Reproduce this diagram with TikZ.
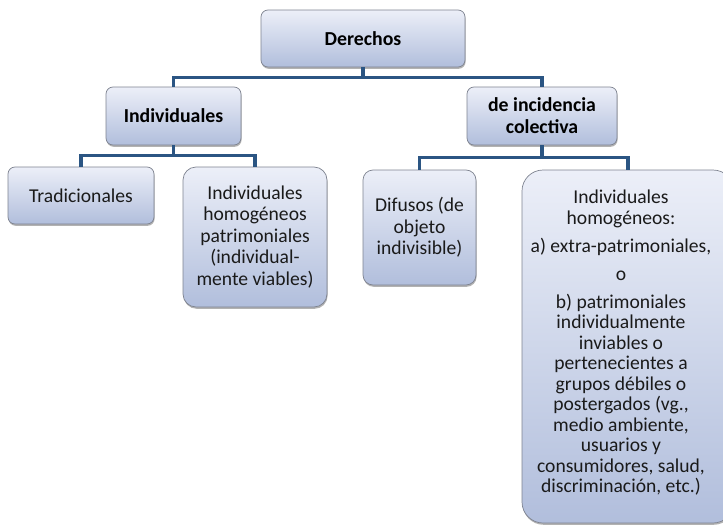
\documentclass[tikz,border=0pt]{standalone}
\usepackage{fontspec}
\setmainfont{Carlito}
\usetikzlibrary{shadows}
\definecolor{boxtop}{HTML}{ECEFF8}
\definecolor{boxbot}{HTML}{B1BEDC}
\definecolor{boxline}{HTML}{7E8390}
\definecolor{linecol}{HTML}{2B5583}
\definecolor{txtcol}{HTML}{1A1A1A}
\tikzset{
  box/.style={draw=boxline, line width=0.7pt, top color=boxtop, bottom color=boxbot,
    rounded corners=7pt, align=center, inner sep=0pt, text=txtcol,
    font=\fontsize{19.6}{21.5}\selectfont,
    drop shadow={shadow xshift=0.6pt, shadow yshift=-1.8pt, fill=black, opacity=0.3}},
  head/.style={box, font=\fontsize{19.8}{22}\selectfont\bfseries, text=black},
  plain/.style={align=center, inner sep=0pt, text=txtcol, font=\fontsize{19.6}{20.5}\selectfont},
  conn/.style={draw=linecol, line width=3.2pt}
}
\begin{document}
\begin{tikzpicture}[x=1pt,y=-1pt]
\useasboundingbox (0,0) rectangle (723,530);
\begin{scope}
\clip (0,0) rectangle (723,530);
% boxes
\node[head, minimum width=204pt, minimum height=57pt] (der) at (363,38.5) {Derechos};
\node[head, minimum width=135pt, minimum height=58pt] (ind) at (173.5,116) {Individuales};
\node[head, minimum width=150pt, minimum height=58pt] (col) at (542,116) {de incidencia\\colectiva};
\node[box, minimum width=146pt, minimum height=57pt] (tra) at (81,195.5) {Tradicionales};
\node[box, rounded corners=13pt, minimum width=144pt, minimum height=140pt] (ihp) at (255,237)
  {Individuales\\homogéneos\\patrimoniales\\(individual-\\mente viables)};
\node[box, rounded corners=10pt, minimum width=113pt, minimum height=115pt] (dif) at (419.5,227.5)
  {Difusos (de\\objeto\\indivisible)};
\node[box, rounded corners=21pt, minimum width=212pt, minimum height=353pt] (big) at (628,346.5) {};
\node[plain] (bigtext) at (621,343)
  {Individuales\\homogéneos:\\[7.5pt]
   a) extra-patrimoniales,\\[7.5pt]
   o\\[7.5pt]
   b) patrimoniales\\individualmente\\inviables o\\pertenecientes a\\grupos débiles o\\postergados (vg.,\\medio ambiente,\\usuarios y\\consumidores, salud,\\discriminación, etc.)};
% connectors
\draw[conn] (der.south) -- ++(0,10) -| (ind.north);
\draw[conn] (der.south) -- ++(0,10) -| (col.north);
\draw[conn] (ind.south) -- ++(0,10) -| (tra.north);
\draw[conn] (ind.south) -- ++(0,10) -| (ihp.north);
\draw[conn] (col.south) -- ++(0,12) -| (dif.north);
\draw[conn] (col.south) -- ++(0,12) -| (big.north);
\end{scope}
\end{tikzpicture}
\end{document}
